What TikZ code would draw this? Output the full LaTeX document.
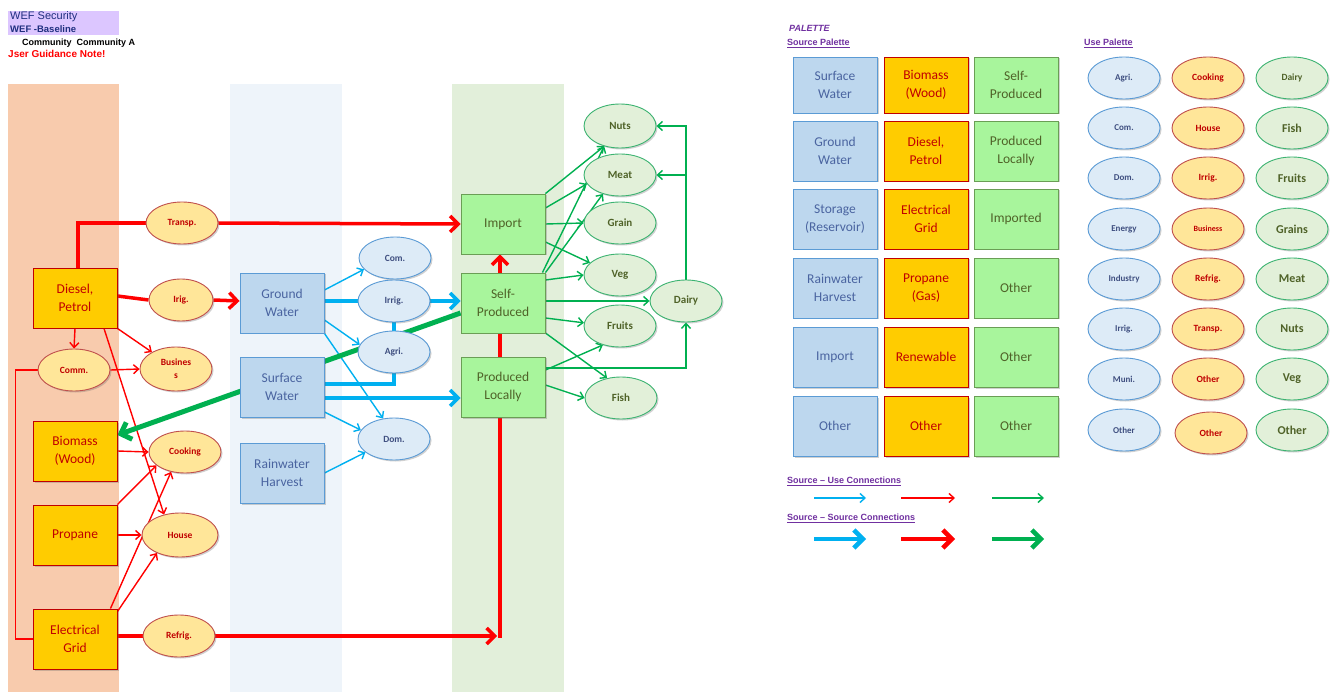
\documentclass[tikz,border=0pt]{standalone}
\usepackage{fontspec}
\setmainfont{Carlito}
\newfontfamily\arialfont{Liberation Sans}
\usetikzlibrary{shapes.geometric,arrows.meta,shadows}
\definecolor{bandO}{HTML}{F8CBAD}
\definecolor{bandB}{HTML}{EEF4FA}
\definecolor{bandG}{HTML}{E2EFDA}
\definecolor{lav}{HTML}{DCC6FF}
\definecolor{navy}{HTML}{1F2F7F}
\definecolor{purp}{HTML}{7030A0}
\definecolor{oFill}{HTML}{FFCC00}
\definecolor{oBorder}{HTML}{C00000}
\definecolor{oText}{HTML}{C00000}
\definecolor{oeFill}{HTML}{FFE699}
\definecolor{oeBorder}{HTML}{C0504D}
\definecolor{bFill}{HTML}{BDD7EE}
\definecolor{bBorder}{HTML}{5B9BD5}
\definecolor{bText}{HTML}{4A64A0}
\definecolor{beFill}{HTML}{DDEBF7}
\definecolor{beText}{HTML}{3F4F80}
\definecolor{gFill}{HTML}{A8F59C}
\definecolor{gBorder}{HTML}{6A9E55}
\definecolor{gText}{HTML}{4F6228}
\definecolor{geFill}{HTML}{E2F0D9}
\definecolor{geBorder}{HTML}{3CB371}
\definecolor{cRed}{HTML}{FF0000}
\definecolor{cBlue}{HTML}{00B0F0}
\definecolor{cGreen}{HTML}{00B050}
\pgfdeclarelayer{bands}
\pgfdeclarelayer{lines}
\pgfsetlayers{bands,lines,main}
\tikzset{
  dshadow/.style={drop shadow={opacity=0.3, shadow xshift=1.5pt, shadow yshift=-1.5pt, fill=black!60}},
  boxbase/.style={rectangle, line width=0.9pt, minimum width=84pt, minimum height=60pt, inner sep=1pt, align=center, font=\fontsize{13.5}{18}\selectfont, dshadow},
  srcO/.style={boxbase, draw=oBorder, fill=oFill, text=oText},
  srcB/.style={boxbase, draw=bBorder, fill=bFill, text=bText},
  srcG/.style={boxbase, draw=gBorder, fill=gFill, text=gText},
  ellbase/.style={ellipse, line width=0.9pt, minimum width=72pt, minimum height=42pt, inner sep=0pt, align=center, dshadow},
  useO/.style={ellbase, draw=oeBorder, fill=oeFill, text=oText, font=\bfseries\fontsize{9.5}{11}\selectfont},
  useB/.style={ellbase, draw=bBorder, fill=beFill, text=beText, font=\bfseries\fontsize{9.5}{11}\selectfont},
  useG/.style={ellbase, draw=geBorder, fill=geFill, text=gText, font=\bfseries\fontsize{11}{13}\selectfont},
  thinarr/.style={line width=1.4pt, -{Straight Barb[length=5pt,width=9pt]}},
  thickline/.style={line width=3.5pt},
  thickarr/.style={line width=3.5pt, -{Straight Barb[length=8pt,width=16pt]}},
  hdr/.style={anchor=west, inner sep=0pt},
  pal/.style={anchor=west, inner sep=0pt, text=purp, font=\arialfont\bfseries\fontsize{9}{10}\selectfont},
}
\begin{document}
\begin{tikzpicture}[x=1pt,y=-1pt]
\useasboundingbox (0,0) rectangle (1330,692);
\begin{pgfonlayer}{bands}
\fill[white] (0,0) rectangle (1330,692);
\fill[bandO] (8,84) rectangle (119,692);
\fill[bandB] (230,84) rectangle (342,692);
\fill[bandG] (452,84) rectangle (564,692);
\fill[lav] (8,11) rectangle (119,35);
\end{pgfonlayer}

% header
\node[hdr, text=navy, font=\arialfont\fontsize{11}{12}\selectfont] (h1) at (10,17) {WEF Security};
\node[hdr, text=navy, font=\arialfont\bfseries\fontsize{9.5}{10}\selectfont] (h2) at (10,29) {WEF -Baseline};
\node[hdr, text=black, font=\arialfont\bfseries\fontsize{9}{10}\selectfont] (h3) at (22,43) {Community\ \ Community A};
\node[hdr, text=cRed, font=\arialfont\bfseries\fontsize{10}{11}\selectfont] (h4) at (8,54) {Jser Guidance Note!};

% energy sources
\node[srcO] (Diesel) at (75,298) {Diesel,\\Petrol};
\node[srcO] (Biomass) at (75,451) {Biomass\\(Wood)};
\node[srcO] (Propane) at (75,535) {Propane};
\node[srcO] (Elec) at (75,639) {Electrical\\Grid};
% energy uses
\node[useO] (Transp) at (182,223) {Transp.};
\node[useO, minimum width=64pt] (Irig) at (181,300) {Irig.};
\node[useO] (Comm) at (74,370) {Comm.};
\node[useO, minimum height=44pt] (Bus) at (176,369) {Busines\\[2pt]s};
\node[useO] (Cooking) at (185,452) {Cooking};
\node[useO, minimum width=76pt, minimum height=44pt] (House) at (180,535) {House};
\node[useO] (Refrig) at (179,636) {Refrig.};

% water sources
\node[srcB] (GW) at (282,303) {Ground\\Water};
\node[srcB] (SW) at (282,387) {Surface\\Water};
\node[srcB] (RH) at (282,473) {Rainwater\\Harvest};
% water uses
\node[useB] (Com) at (395,258) {Com.};
\node[useB] (WIrrig) at (394,301) {Irrig.};
\node[useB] (Agri) at (394,352) {Agri.};
\node[useB] (Dom) at (394,439) {Dom.};

% food sources
\node[srcG] (Import) at (503,224) {Import};
\node[srcG] (SP) at (503,303) {Self-\\Produced};
\node[srcG] (PL) at (503,387) {Produced\\Locally};
% food uses
\node[useG, minimum height=44pt] (Nuts) at (620,126) {Nuts};
\node[useG] (Meat) at (620,175) {Meat};
\node[useG] (Grain) at (620,223) {Grain};
\node[useG] (Veg) at (620,275) {Veg};
\node[useG] (Dairy) at (686,301) {Dairy};
\node[useG] (Fruits) at (620,326) {Fruits};
\node[useG] (Fish) at (621,398) {Fish};

\coordinate (c1) at (497,636);
\coordinate (c2) at (500,636);

\begin{pgfonlayer}{lines}
% red source-source
\draw[cRed, thickline] ([xshift=3pt]Diesel.north) |- (Transp.west);
\draw[cRed, thickarr] (Transp.east) -- (Import.west);
\draw[cRed, thickline] ([yshift=2pt]Diesel.east) -- (Irig.west);
\draw[cRed, thickarr] (Irig.east) -- ([yshift=2pt]GW.west);
\draw[cRed, thickline] ([yshift=3pt]Elec.east) -- (Refrig.west);
\draw[cRed, thickarr] (Refrig.east) -- (c1);
\draw[cRed, thickline] ([yshift=-1.75pt]c2) -- (c2 |- PL.south);
\draw[cRed, thickline] (c2 |- PL.north) -- (c2 |- SP.south);
\draw[cRed, thickarr] (c2 |- SP.north) -- (c2 |- Import.south);
% red source-use
\draw[cRed, thinarr] (Diesel.south) -- (Comm.north);
\draw[cRed, thinarr] (Diesel.south east) -- (Bus.145);
\draw[cRed, thinarr] (Comm.east) -- (Bus.west);
\draw[cRed, thinarr] ([xshift=29pt]Diesel.south) -- (House.128);
\draw[cRed, line width=1.4pt] (Comm.west) -- ++(-22,0) |- (Elec.west);
\draw[cRed, thinarr] (Biomass.east) -- (Cooking.west);
\draw[cRed, thinarr] (Propane.north east) -- (Cooking.205);
\draw[cRed, thinarr] (Propane.east) -- (House.west);
\draw[cRed, thinarr] ([xshift=-7pt]Elec.north east) -- (Cooking.235);
\draw[cRed, thinarr] ([yshift=-3pt]Elec.north east) -- (House.218);
% blue source-source
\draw[cBlue, thickline] ([yshift=2pt]GW.east) -- (WIrrig.west);
\draw[cBlue, thickarr] (WIrrig.east) -- ([yshift=2pt]SP.west);
\draw[cBlue, thickline] (WIrrig.south) -- (Agri.north);
\draw[cBlue, thickline] ([yshift=3pt]SW.east) -| (Agri.south);
\draw[cBlue, thickarr] ([yshift=-11pt]SW.east) -- ([yshift=-11pt]PL.west);
% blue source-use
\draw[cBlue, thinarr] ([yshift=13pt]GW.east) -- (Com.200);
\draw[cBlue, thinarr] ([yshift=-17pt]GW.east) -- (Agri.168);
\draw[cBlue, thinarr] (GW.south east) -- (Dom.118);
\draw[cBlue, thinarr] ([yshift=-25pt]SW.east) -- (Dom.165);
\draw[cBlue, thinarr] (RH.east) -- (Dom.205);
% green source-source
\draw[cGreen, line width=5pt, -{Straight Barb[length=9pt,width=18pt]}] ([yshift=-10pt]SP.west) -- ([yshift=16pt]Biomass.east);
% green source-use
\draw[cGreen, thinarr] (Import.north east) -- (Nuts.232);
\draw[cGreen, thinarr] ([yshift=16pt]Import.east) -- (Meat.195);
\draw[cGreen, thinarr] (Import.east) -- (Grain.west);
\draw[cGreen, thinarr] ([yshift=-18pt]Import.east) -- (Veg.158);
\draw[cGreen, thinarr] ([xshift=-3pt]SP.north east) -- (Nuts.232);
\draw[cGreen, thinarr] (SP.north east) -- (Meat.228);
\draw[cGreen, thinarr] ([yshift=23pt]SP.east) -- (Veg.west);
\draw[cGreen, thinarr] ([yshift=2pt]SP.east) -- (Dairy.west);
\draw[cGreen, thinarr] ([yshift=-15pt]SP.east) -- (Fruits.175);
\draw[cGreen, thinarr] ([yshift=-30pt]SP.east) -- (Fish.125);
\draw[cGreen, thinarr] ([yshift=17pt]PL.east) -- (Fruits.228);
\draw[cGreen, thinarr] ([yshift=19pt]PL.east) -| (Dairy.south);
\draw[cGreen, thinarr] ([yshift=2pt]PL.east) -- (Fish.180);
\draw[cGreen, thinarr] (Dairy.north) |- (Nuts.east);
\draw[cGreen, thinarr] (Dairy.north) |- (Meat.east);
\end{pgfonlayer}

% palette
\node[pal, font=\arialfont\bfseries\itshape\fontsize{9}{10}\selectfont] (ptitle) at (789,28) {PALETTE};
\node[pal] (psrc) at (787,43) {\underline{Source Palette}};
\node[pal] (puse) at (1084,43) {\underline{Use Palette}};

\node[srcB, minimum height=56pt] (pb1) at (835,85) {Surface\\Water};
\node[srcB] (pb2) at (835,151) {Ground\\Water};
\node[srcB] (pb3) at (835,219) {Storage\\(Reservoir)};
\node[srcB] (pb4) at (835,288) {Rainwater\\Harvest};
\node[srcB] (pb5) at (835,357) {Import};
\node[srcB] (pb6) at (835,426) {Other};
\node[srcO, minimum height=56pt] (po1) at (926,85) {Biomass\\(Wood)};
\node[srcO] (po2) at (926,151) {Diesel,\\Petrol};
\node[srcO] (po3) at (926,219) {Electrical\\Grid};
\node[srcO] (po4) at (926,288) {Propane\\(Gas)};
\node[srcO] (po5) at (926,357) {Renewable};
\node[srcO] (po6) at (926,426) {Other};
\node[srcG, minimum height=56pt] (pg1) at (1016,85) {Self-\\Produced};
\node[srcG] (pg2) at (1016,151) {Produced\\Locally};
\node[srcG] (pg3) at (1016,219) {Imported};
\node[srcG] (pg4) at (1016,288) {Other};
\node[srcG] (pg5) at (1016,357) {Other};
\node[srcG] (pg6) at (1016,426) {Other};

\tikzset{smallB/.style={useB, font=\bfseries\fontsize{9}{10}\selectfont}}
\node[smallB] (ub1) at (1124,78) {Agri.};
\node[smallB] (ub2) at (1124,128) {Com.};
\node[smallB] (ub3) at (1124,178) {Dom.};
\node[smallB] (ub4) at (1124,229) {Energy};
\node[smallB] (ub5) at (1124,279) {Industry};
\node[smallB] (ub6) at (1124,329) {Irrig.};
\node[smallB] (ub7) at (1124,379) {Muni.};
\node[smallB] (ub8) at (1124,430) {Other};
\node[useO] (uo1) at (1208,78) {Cooking};
\node[useO] (uo2) at (1208,128) {House};
\node[useO] (uo3) at (1208,178) {Irrig.};
\node[useO, font=\bfseries\fontsize{8}{9}\selectfont] (uo4) at (1208,229) {Business};
\node[useO] (uo5) at (1208,279) {Refrig.};
\node[useO] (uo6) at (1208,329) {Transp.};
\node[useO] (uo7) at (1208,379) {Other};
\node[useO] (uo8) at (1211,433) {Other};
\tikzset{bigG/.style={useG, font=\bfseries\fontsize{12}{13}\selectfont}}
\node[useG, font=\bfseries\fontsize{9.5}{10}\selectfont] (ug1) at (1292,78) {Dairy};
\node[bigG] (ug2) at (1292,128) {Fish};
\node[bigG] (ug3) at (1292,178) {Fruits};
\node[bigG] (ug4) at (1292,229) {Grains};
\node[bigG] (ug5) at (1292,279) {Meat};
\node[bigG] (ug6) at (1292,329) {Nuts};
\node[bigG] (ug7) at (1292,379) {Veg};
\node[bigG] (ug8) at (1292,430) {Other};

% legend
\node[pal] (lt1) at (787,481) {\underline{Source – Use Connections}};
\node[pal] (lt2) at (787,518) {\underline{Source – Source Connections}};
\coordinate (lb1) at (814,498); \coordinate (lb2) at (866,498);
\coordinate (lr1) at (901,498); \coordinate (lr2) at (955,498);
\coordinate (lg1) at (992,498); \coordinate (lg2) at (1044,498);
\coordinate (Lb1) at (814,539); \coordinate (Lb2) at (866,539);
\coordinate (Lr1) at (901,539); \coordinate (Lr2) at (955,539);
\coordinate (Lg1) at (992,539); \coordinate (Lg2) at (1044,539);
\draw[cBlue, thinarr] (lb1) -- (lb2);
\draw[cRed, thinarr] (lr1) -- (lr2);
\draw[cGreen, thinarr] (lg1) -- (lg2);
\draw[cBlue, line width=4.5pt, -{Straight Barb[length=9pt,width=18pt]}] (Lb1) -- (Lb2);
\draw[cRed, line width=4.5pt, -{Straight Barb[length=9pt,width=18pt]}] (Lr1) -- (Lr2);
\draw[cGreen, line width=4.5pt, -{Straight Barb[length=9pt,width=18pt]}] (Lg1) -- (Lg2);
\end{tikzpicture}
\end{document}
